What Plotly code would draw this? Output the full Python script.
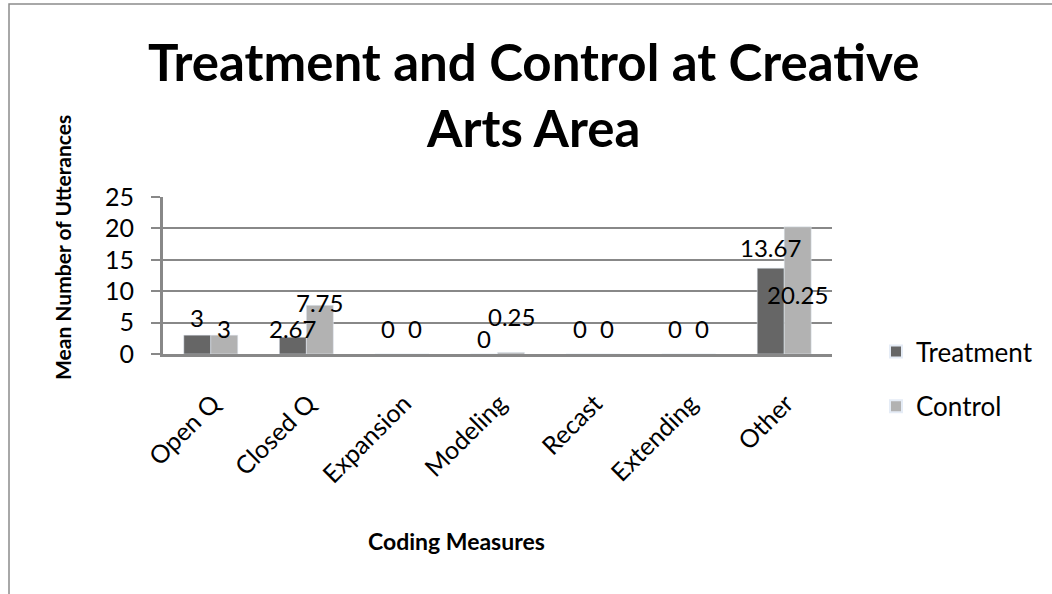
import plotly.graph_objects as go

categories = ["Open Q", "Closed Q", "Expansion", "Modeling", "Recast", "Extending", "Other"]
treatment = [3, 2.67, 0, 0, 0, 0, 13.67]
control = [3, 7.75, 0, 0.25, 0, 0, 20.25]
treatment_labels = ["3", "2.67", "0", "0", "0", "0", "13.67"]
control_labels = ["3", "7.75", "0", "0.25", "0", "0", "20.25"]
y_ticks = [0, 5, 10, 15, 20, 25]

# label vertical offsets (px, relative to bar top) mimicking manually moved Excel labels
t_shift = [18, 9, 26, 16, 26, 26, 21]
c_shift = [7, 3, 26, 36, 26, 26, -68]

FONT = "Lato, Calibri, Carlito, sans-serif"
DARK = "#666666"
LIGHT = "#B2B2B2"
GRID = "#888888"

bargap = 0.435
half = (1 - bargap) / 4  # center offset of each bar within a category

W, H = 1052, 594
L, R, T, B = 163, 220, 197, 240
pw, ph = W - L - R, H - T - B


def px_x(x):
    return (x - L) / pw


def px_y(y):
    return (H - B - y) / ph


fig = go.Figure()
fig.add_trace(go.Bar(name="Treatment", x=categories, y=treatment, marker_color=DARK,
                     legendgroup="t"))
fig.add_trace(go.Bar(name="Control", x=categories, y=control, marker_color=LIGHT,
                     legendgroup="c"))

annotations = []
for i, cat in enumerate(categories):
    annotations.append(dict(x=i - half, y=treatment[i], xref="x", yref="y",
                            text=treatment_labels[i], showarrow=False,
                            yshift=t_shift[i], yanchor="middle",
                            font=dict(family=FONT, size=24, color="#000")))
    annotations.append(dict(x=i + half, y=control[i], xref="x", yref="y",
                            text=control_labels[i], showarrow=False,
                            yshift=c_shift[i], yanchor="middle",
                            font=dict(family=FONT, size=24, color="#000")))

annotations.append(dict(x=px_x(533), y=px_y(95), xref="paper", yref="paper",
                        text="<b>Treatment and Control at Creative<br>Arts Area</b>",
                        showarrow=False, xanchor="center", yanchor="middle",
                        font=dict(family=FONT, size=51, color="#000")))
annotations.append(dict(x=px_x(456), y=px_y(541), xref="paper", yref="paper",
                        text="<b>Coding Measures</b>", showarrow=False,
                        xanchor="center", yanchor="middle",
                        font=dict(family=FONT, size=23, color="#000")))
annotations.append(dict(x=px_x(62), y=px_y(248), xref="paper", yref="paper",
                        text="<b>Mean Number of Utterances</b>", showarrow=False,
                        textangle=-90, xanchor="center", yanchor="middle",
                        font=dict(family=FONT, size=21, color="#000")))

fig.update_layout(
    width=W, height=H,
    margin=dict(l=L, r=R, t=T, b=B, autoexpand=False),
    paper_bgcolor="white", plot_bgcolor="white",
    barmode="group", bargap=bargap, bargroupgap=0,
    font=dict(family=FONT, size=24, color="#000"),
    showlegend=True,
    legend=dict(x=px_x(876), y=px_y(328), xanchor="left", yanchor="top",
                font=dict(family=FONT, size=26, color="#000"),
                tracegroupgap=18, itemsizing="constant",
                bgcolor="rgba(0,0,0,0)"),
    annotations=annotations,
    shapes=[dict(type="rect", xref="paper", yref="paper",
                 x0=px_x(9), x1=px_x(1070), y0=px_y(4), y1=px_y(640),
                 line=dict(color="#8c8c8c", width=1.5), fillcolor="rgba(0,0,0,0)",
                 layer="below")],
)

fig.update_xaxes(
    type="category", tickangle=-45, showgrid=False,
    showline=True, linecolor=GRID, linewidth=3,
    ticks="", ticklabelstandoff=22, ticklabelshift=2,
    tickfont=dict(family=FONT, size=25, color="#000"),
)
fig.update_yaxes(
    range=[0, 25], tickvals=y_ticks, showgrid=True, gridcolor=GRID, gridwidth=1.5,
    showline=True, linecolor=GRID, linewidth=3, zeroline=False,
    ticks="outside", ticklen=9, tickcolor=GRID, tickwidth=1.5,
    ticklabelstandoff=12,
    tickfont=dict(family=FONT, size=25, color="#000"),
)

fig.write_html("out.html", config={"displayModeBar": False},
               post_script="document.body.style.margin='0';document.body.style.padding='0';")
